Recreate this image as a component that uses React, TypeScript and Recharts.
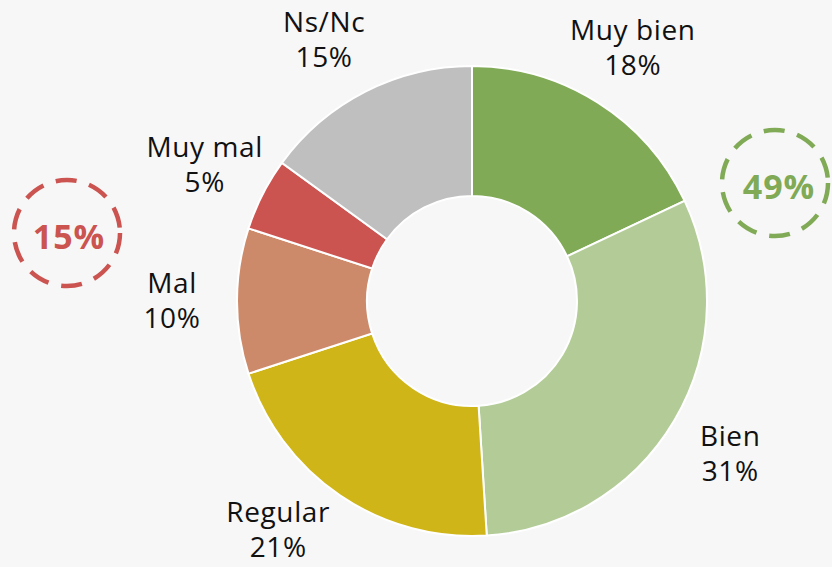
import { PieChart, Pie, Cell } from 'recharts';

const categories = ['Muy bien', 'Bien', 'Regular', 'Mal', 'Muy mal', 'Ns/Nc'];
const values = [18, 31, 21, 10, 5, 15];
const colors = ['#80aa55', '#b3cc97', '#cfb517', '#cd8a6a', '#cb5350', '#bfbfbf'];

const positiveTotal = '49%';
const negativeTotal = '15%';

const data = categories.map((name, i) => ({ name, value: values[i] }));

const RADIAN = Math.PI / 180;
const FONT = '"Open Sans", "Noto Sans", sans-serif';
const W = 832;
const H = 567;

// labels sit on a ring outside the donut; when they would leave the picture
// they are pushed back inside and slid along the ring
const renderLabel = (props: any) => {
  const { cx, cy, midAngle, outerRadius, name, value } = props;
  const r = outerRadius + 65;
  let x = cx + r * Math.cos(-midAngle * RADIAN);
  let y = cy + r * Math.sin(-midAngle * RADIAN);
  const minY = 40;
  const maxY = H - 37;
  if (y < minY || y > maxY) {
    y = Math.min(maxY, Math.max(minY, y));
    const dx = Math.sqrt(Math.max(0, r * r - (y - cy) * (y - cy)));
    x = x < cx ? cx - dx : cx + dx;
  }
  return (
    <text x={x} y={y} textAnchor="middle" fill="#111" fontFamily={FONT} fontSize={28} letterSpacing={0.6}>
      <tspan x={x} dy={-8}>{name}</tspan>
      <tspan x={x} dy={35}>{value}%</tspan>
    </text>
  );
};

export default function App() {
  return (
    <div style={{ position: 'absolute', left: 0, top: 0, width: W, height: H, background: '#f7f7f7' }}>
      <PieChart width={W} height={H} margin={{ top: 0, right: 0, bottom: 0, left: 0 }}>
        <Pie
          data={data}
          dataKey="value"
          nameKey="name"
          cx={472}
          cy={301}
          innerRadius={105}
          outerRadius={235}
          startAngle={90}
          endAngle={-270}
          stroke="#ffffff"
          strokeWidth={2}
          label={renderLabel}
          labelLine={false}
          isAnimationActive={false}
        >
          {data.map((d, i) => (
            <Cell key={d.name} fill={colors[i]} />
          ))}
        </Pie>
      </PieChart>
      <svg width={W} height={H} style={{ position: 'absolute', left: 0, top: 0, pointerEvents: 'none' }}>
        <circle cx={67} cy={233} r={53} fill="none" stroke="#cb5350" strokeWidth={4.5} strokeDasharray="21 13" />
        <text x={69} y={249} textAnchor="middle" fill="#cb5350" fontFamily={FONT} fontWeight="bold" fontSize={34} letterSpacing={1}>
          {negativeTotal}
        </text>
        <circle cx={775} cy={183} r={53} fill="none" stroke="#80aa55" strokeWidth={4.5} strokeDasharray="21 13" />
        <text x={779} y={199} textAnchor="middle" fill="#80aa55" fontFamily={FONT} fontWeight="bold" fontSize={34} letterSpacing={1}>
          {positiveTotal}
        </text>
      </svg>
    </div>
  );
}
